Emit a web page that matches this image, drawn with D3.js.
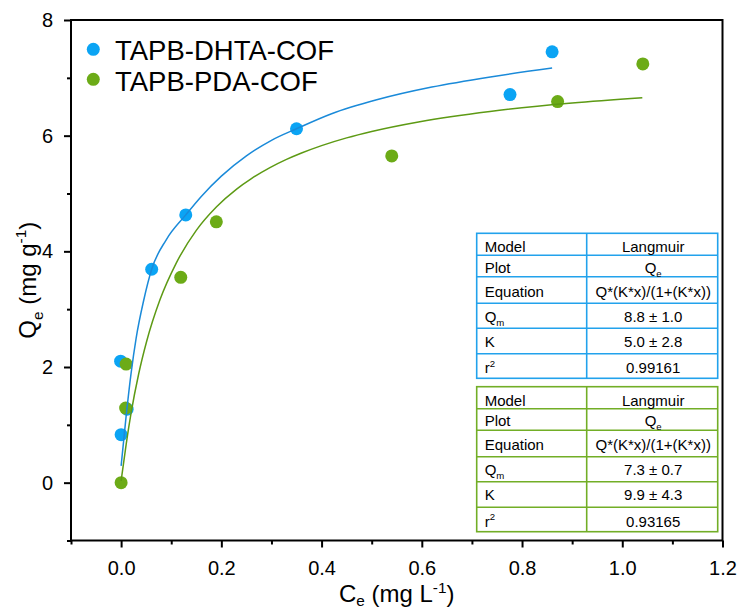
<!DOCTYPE html>
<html>
<head>
<meta charset="utf-8">
<script src="https://cdn.jsdelivr.net/npm/d3@7"></script>
<style>
  body { margin: 0; background: #fff; }
  text { font-family: Arial, "Liberation Sans", sans-serif; fill: #000; }
</style>
</head>
<body>
<svg id="chart" width="743" height="610"></svg>
<script>
// Measured adsorption points: equilibrium concentration Ce (mg/L) vs uptake Qe (mg/g)
const dhtaCe = [-0.001, 0.000, 0.012, 0.061, 0.129, 0.350, 0.776, 0.860];
const dhtaQe = [2.10, 0.83, 1.27, 3.69, 4.63, 6.12, 6.71, 7.45];
const pdaCe  = [0.000, 0.009, 0.010, 0.119, 0.190, 0.540, 0.871, 1.041];
const pdaQe  = [0.00, 1.29, 2.05, 3.55, 4.51, 5.65, 6.59, 7.24];

// Langmuir fit curves (sampled)
const dhtaFitCe = [0.000, 0.010, 0.020, 0.030, 0.045, 0.061, 0.090, 0.129, 0.160, 0.200, 0.250, 0.300, 0.350, 0.420, 0.510, 0.620, 0.740, 0.860];
const dhtaFitQe = [0.29, 1.15, 1.90, 2.50, 3.15, 3.69, 4.20, 4.63, 4.95, 5.30, 5.65, 5.92, 6.12, 6.38, 6.62, 6.84, 7.02, 7.17];
const pdaFitCe  = [0.000, 0.010, 0.020, 0.035, 0.051, 0.0775, 0.110, 0.150, 0.1905, 0.2305, 0.260, 0.297, 0.330, 0.360, 0.400, 0.450, 0.500, 0.596, 0.736, 0.900, 1.040];
const pdaFitQe  = [0.030, 0.659, 1.209, 1.879, 2.446, 3.162, 3.797, 4.362, 4.770, 5.076, 5.257, 5.447, 5.589, 5.700, 5.828, 5.962, 6.073, 6.242, 6.419, 6.563, 6.654];

const seriesNames = ["TAPB-DHTA-COF", "TAPB-PDA-COF"];

// Axis ticks
const xMajorTicks = [0, 0.2, 0.4, 0.6, 0.8, 1.0, 1.2];
const xTickLabels = ["0.0", "0.2", "0.4", "0.6", "0.8", "1.0", "1.2"];
const xMinorTicks = [-0.1, 0.1, 0.3, 0.5, 0.7, 0.9, 1.1];
const yMajorTicks = [0, 2, 4, 6, 8];
const yTickLabels = ["0", "2", "4", "6", "8"];
const yMinorTicks = [-1, 1, 3, 5, 7];

// Fit report tables (_{..} subscript, ^{..} superscript)
const tableRowLabels = ["Model", "Plot", "Equation", "Q_{m}", "K", "r^{2}"];
const dhtaFitReport = ["Langmuir", "Q_{e}", "Q*(K*x)/(1+(K*x))", "8.8 ± 1.0", "5.0 ± 2.8", "0.99161"];
const pdaFitReport  = ["Langmuir", "Q_{e}", "Q*(K*x)/(1+(K*x))", "7.3 ± 0.7", "9.9 ± 4.3", "0.93165"];

const blueDot = "#0ba4f4", blueLine = "#1a8ad9", blueBorder = "#22a2ec";
const greenDot = "#6cab17", greenLine = "#5d9a14", greenBorder = "#72ae26";

const svg = d3.select("#chart");
const plot = { left: 71, right: 722.5, top: 20, bottom: 540.5 };

const x = d3.scaleLinear().domain([-0.1, 1.2]).range([plot.left, plot.right]);
const y = d3.scaleLinear().domain([-1, 8]).range([plot.bottom, plot.top]);

// Rich text helper: plain / subscript / superscript runs via tspans
function richText(textSel, str, fs, subShift = 0.28, supShift = 0.42) {
  const parts = [];
  const re = /(_\{[^}]*\}|\^\{[^}]*\})/g;
  let last = 0, m;
  while ((m = re.exec(str)) !== null) {
    if (m.index > last) parts.push({ t: str.slice(last, m.index), s: 0 });
    parts.push({ t: m[0].slice(2, -1), s: m[0][0] === "_" ? 1 : -1 });
    last = m.index + m[0].length;
  }
  if (last < str.length) parts.push({ t: str.slice(last), s: 0 });
  let cur = 0;
  parts.forEach(p => {
    const target = p.s === 1 ? subShift * fs : p.s === -1 ? -supShift * fs : 0;
    textSel.append("tspan")
      .attr("dy", target - cur)
      .style("font-size", (p.s ? 0.64 * fs : fs) + "px")
      .text(p.t);
    cur = target;
  });
  return textSel;
}

// Plot frame
svg.append("rect")
  .attr("x", plot.left).attr("y", plot.top)
  .attr("width", plot.right - plot.left).attr("height", plot.bottom - plot.top)
  .attr("fill", "none").attr("stroke", "#000").attr("stroke-width", 2);

function styleAxis(g) {
  g.select(".domain").remove();
  g.selectAll(".tick line").attr("stroke", "#000").attr("stroke-width", 2);
  g.selectAll(".tick text").style("font-size", "20px").attr("fill", "#000")
    .style("font-family", "Arial, 'Liberation Sans', sans-serif");
}

svg.append("g").attr("transform", `translate(0,${plot.bottom})`)
  .call(d3.axisBottom(x).tickValues(xMajorTicks).tickSize(7).tickPadding(13)
    .tickFormat((d, i) => xTickLabels[i]))
  .call(styleAxis);
svg.append("g").attr("transform", `translate(0,${plot.bottom})`)
  .call(d3.axisBottom(x).tickValues(xMinorTicks).tickSize(4).tickFormat(""))
  .call(styleAxis);
svg.append("g").attr("transform", `translate(${plot.left},0)`)
  .call(d3.axisLeft(y).tickValues(yMajorTicks).tickSize(7).tickPadding(11)
    .tickFormat((d, i) => yTickLabels[i]))
  .call(styleAxis);
svg.append("g").attr("transform", `translate(${plot.left},0)`)
  .call(d3.axisLeft(y).tickValues(yMinorTicks).tickSize(4).tickFormat(""))
  .call(styleAxis);

// Axis titles
richText(svg.append("text")
  .attr("x", (plot.left + plot.right) / 2).attr("y", 602)
  .attr("text-anchor", "middle").style("font-size", "24px"),
  "C_{e} (mg L^{-1})", 24, 0.17, 0.36);
richText(svg.append("text")
  .attr("transform", `translate(36,${(plot.top + plot.bottom) / 2}) rotate(-90)`)
  .attr("text-anchor", "middle").style("font-size", "24px"),
  "Q_{e} (mg g^{-1})", 24);

// Scatter points
const ptsBlue = d3.zip(dhtaCe, dhtaQe);
const ptsGreen = d3.zip(pdaCe, pdaQe);
svg.append("g").selectAll("circle").data(ptsBlue).join("circle")
  .attr("cx", d => x(d[0])).attr("cy", d => y(d[1])).attr("r", 6.5).attr("fill", blueDot);
svg.append("g").selectAll("circle").data(ptsGreen).join("circle")
  .attr("cx", d => x(d[0])).attr("cy", d => y(d[1])).attr("r", 6.5).attr("fill", greenDot);

// Fit curves
const line = d3.line().x(d => x(d[0])).y(d => y(d[1])).curve(d3.curveMonotoneX);
svg.append("path").datum(d3.zip(dhtaFitCe, dhtaFitQe))
  .attr("d", line).attr("fill", "none").attr("stroke", blueLine).attr("stroke-width", 1.5);
svg.append("path").datum(d3.zip(pdaFitCe, pdaFitQe))
  .attr("d", line).attr("fill", "none").attr("stroke", greenLine).attr("stroke-width", 1.5);

// Legend
const legend = svg.append("g");
[[blueDot, 49.3, 59.5], [greenDot, 79.3, 90.5]].forEach(([c, cy, by], i) => {
  legend.append("circle").attr("cx", 93.3).attr("cy", cy).attr("r", 6.5).attr("fill", c);
  legend.append("text").attr("x", 115).attr("y", by).style("font-size", "27.5px").text(seriesNames[i]);
});

// Fit report tables
const rowLines = [0, 22, 43.5, 70, 95, 120.5, 145];
const rowBaselines = [19, 39.5, 63.5, 88.5, 113.5, 140];
function drawTable(top, values, color) {
  const left = 476.7, mid = 586.7, right = 717.7;
  const g = svg.append("g");
  g.append("rect").attr("x", left).attr("y", top).attr("width", right - left)
    .attr("height", rowLines[rowLines.length - 1]).attr("fill", "#fff")
    .attr("stroke", color).attr("stroke-width", 1.6);
  rowLines.slice(1, -1).forEach(r => {
    g.append("line").attr("x1", left).attr("x2", right).attr("y1", top + r).attr("y2", top + r)
      .attr("stroke", color).attr("stroke-width", 1.6);
  });
  g.append("line").attr("x1", mid).attr("x2", mid).attr("y1", top).attr("y2", top + rowLines[rowLines.length - 1])
    .attr("stroke", color).attr("stroke-width", 1.6);
  tableRowLabels.forEach((lab, i) => {
    richText(g.append("text").attr("x", left + 8).attr("y", top + rowBaselines[i])
      .style("font-size", "15px"), lab, 15);
    richText(g.append("text").attr("x", (mid + right) / 2 + 1).attr("y", top + rowBaselines[i])
      .attr("text-anchor", "middle").style("font-size", "15px"), values[i], 15);
  });
}
drawTable(233.3, dhtaFitReport, blueBorder);
drawTable(386.7, pdaFitReport, greenBorder);
</script>
</body>
</html>
